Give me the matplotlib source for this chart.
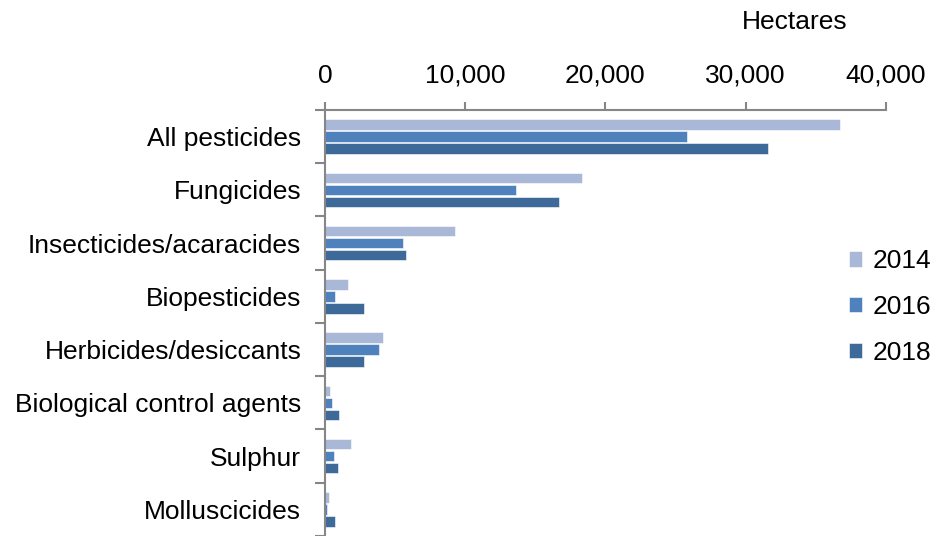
import numpy as np
import matplotlib.pyplot as plt
from matplotlib.ticker import FuncFormatter

plt.rcParams['font.family'] = ['Liberation Sans', 'DejaVu Sans']

categories = ['All pesticides', 'Fungicides', 'Insecticides/acaracides', 'Biopesticides',
              'Herbicides/desiccants', 'Biological control agents', 'Sulphur', 'Molluscicides']
years = ['2014', '2016', '2018']
area_2014 = [36700, 18350, 9250, 1650, 4150, 350, 1850, 300]
area_2016 = [25850, 13650, 5550, 750, 3850, 500, 650, 150]
area_2018 = [31600, 16700, 5800, 2800, 2800, 1000, 950, 700]
colors = ['#a9b8d7', '#4f81bd', '#3e6a9a']

fig = plt.figure(figsize=(9.31, 5.36), dpi=100)
ax = fig.add_axes([0.349, 0.0, 0.6026, 0.7948])

y = np.arange(len(categories))
offsets = [-0.225, 0.0, 0.225]
for vals, off, col, yr in zip([area_2014, area_2016, area_2018], offsets, colors, years):
    ax.barh(y + off, vals, height=0.2, color=col, edgecolor='white', linewidth=0.4, label=yr)

ax.set_xlim(0, 40000)
ax.set_ylim(len(categories) - 0.5, -0.5)

ax.xaxis.tick_top()
ax.set_xticks([0, 10000, 20000, 30000, 40000])
ax.xaxis.set_major_formatter(FuncFormatter(lambda v, p: f'{int(v):,}'))
ax.tick_params(axis='x', direction='out', length=6, width=1.5, color='#868686',
               labelsize=19, pad=10)

# category labels sit between the boundary tick marks
ax.set_yticks(y)
ax.set_yticklabels(categories)
ax.set_yticks(np.arange(-0.5, len(categories)), minor=True)
ax.tick_params(axis='y', which='major', length=0, labelsize=19, pad=17)
ax.tick_params(axis='y', which='minor', direction='out', length=7, width=1.5, color='#868686')

for side in ['right', 'bottom']:
    ax.spines[side].set_visible(False)
for side in ['left', 'top']:
    ax.spines[side].set_color('#868686')
    ax.spines[side].set_linewidth(1.5)

fig.text(848 / 931, 1 - 22 / 536, 'Hectares', fontsize=19, ha='right', va='center')

handles, labels = ax.get_legend_handles_labels()
fig.legend(handles, labels, loc='center left', bbox_to_anchor=(849 / 931, 1 - 307 / 536),
           frameon=False, fontsize=19, handlelength=0.5, handleheight=0.5,
           handletextpad=0.4, labelspacing=0.82, borderpad=0, borderaxespad=0)

fig.savefig('out.png', dpi=100)
